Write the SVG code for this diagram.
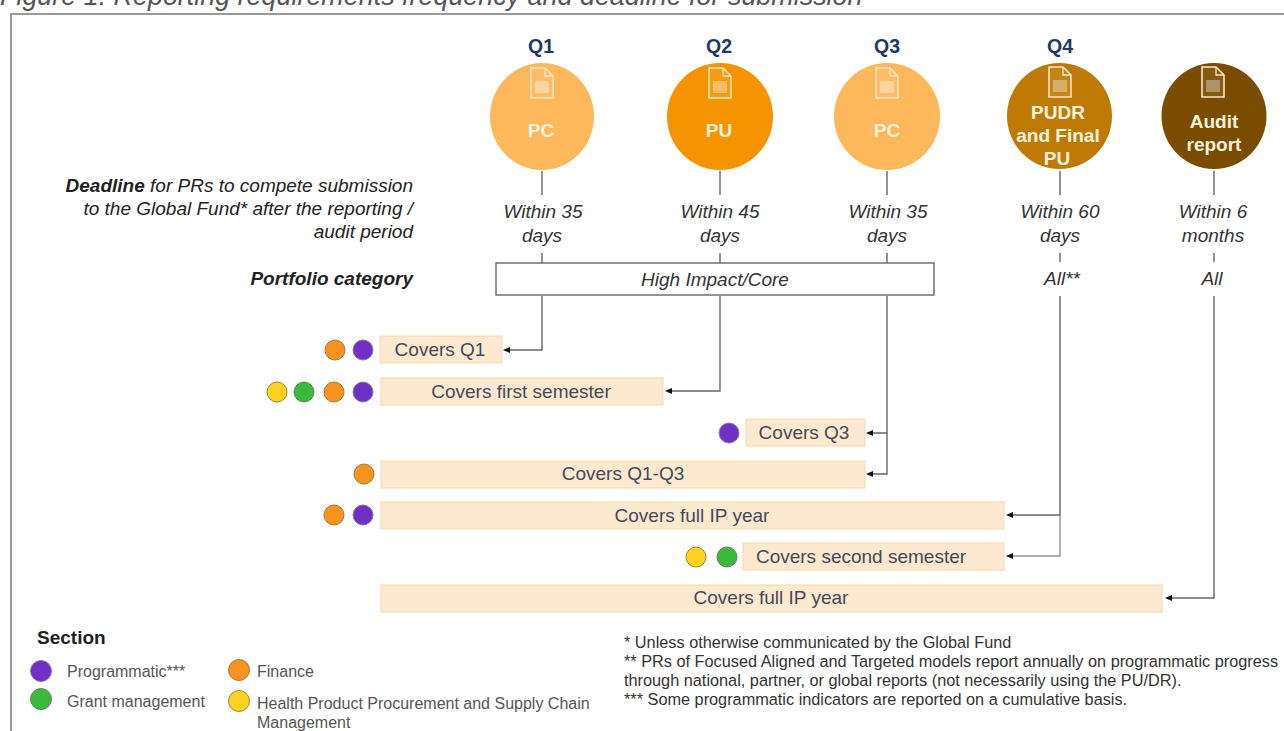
<svg xmlns="http://www.w3.org/2000/svg" width="1284" height="731" viewBox="0 0 1284 731">
<defs>
<marker id="ah" viewBox="0 0 8 8" refX="1" refY="4" markerWidth="8" markerHeight="8" markerUnits="userSpaceOnUse" orient="auto"><path d="M8 4L1 1V7Z" fill="#111"/></marker>
<g id="doc"><path d="M-11-15H3L11-7V15H-11Z" fill="#fff" fill-opacity=".08" stroke="#fde6c0" stroke-width="1.6"/><path d="M3-15V-7H11" fill="none" stroke="#fde6c0" stroke-width="1.3"/><rect x="-7" y="-2" width="14" height="12" fill="#fff" fill-opacity=".35"/></g>
</defs>
<style>
text{font-family:"Liberation Sans",Arial,sans-serif}
.q{font-size:19.5px;font-weight:700;fill:#1f3864;text-anchor:middle}
.w{font-size:19px;font-weight:700;fill:#fff3df;text-anchor:middle}
.d{font-size:19px;font-style:italic;fill:#333;text-anchor:middle}
.r{font-size:19px;font-style:italic;fill:#222;text-anchor:end}
.b{fill:#fde9d0;stroke:#fad7a8;stroke-width:1}
.c{font-size:19px;fill:#44495a;text-anchor:middle}
.l{fill:none;stroke:#666;stroke-width:1.4}
.p{fill:#7030c8;stroke:#8a7aa0}.o{fill:#f7931e;stroke:#a37b3a}.g{fill:#3cb83c;stroke:#5a8a5a}.y{fill:#ffd21f;stroke:#a08a2a}
.s{font-size:16px;fill:#555}
.n{font-size:16.3px;fill:#333}
</style>
<text x="0" y="5" font-size="26.9" font-style="italic" fill="#555">Figure 1: Reporting requirements frequency and deadline for submission</text>
<path d="M1284 14H11V731" fill="none" stroke="#999" stroke-width="2"/>
<g id="connectors">
<path class="l" d="M542 171V195M542 253V263M542 296V350H510" marker-end="url(#ah)"/>
<path class="l" d="M720 171V195M720 253V263M720 296V391H672" marker-end="url(#ah)"/>
<path class="l" d="M887 171V195M887 253V263M887 296V433H873" marker-end="url(#ah)"/>
<path class="l" d="M887 433V474H873" marker-end="url(#ah)"/>
<path class="l" d="M1060 171V195M1060 253V262M1060 296V515H1013" marker-end="url(#ah)"/>
<path class="l" stroke-opacity=".7" d="M1060 515V556H1013" marker-end="url(#ah)"/>
<path class="l" d="M1214 171V195M1214 253V262M1214 296V598H1172" marker-end="url(#ah)"/>
</g>
<g id="q1"><text class="q" x="541" y="53">Q1</text><ellipse cx="542" cy="116.500" rx="52" ry="53.500" fill="#fdb85c"/><use href="#doc" x="542" y="83"/><text class="w" x="541" y="137">PC</text><text class="d" x="543" y="218">Within 35</text><text class="d" x="542" y="242">days</text></g>
<g id="q2"><text class="q" x="719" y="53">Q2</text><ellipse cx="720" cy="116.500" rx="53" ry="53.500" fill="#f59300"/><use href="#doc" x="720" y="83"/><text class="w" x="719" y="137">PU</text><text class="d" x="720" y="218">Within 45</text><text class="d" x="720" y="242">days</text></g>
<g id="q3"><text class="q" x="887" y="53">Q3</text><ellipse cx="887" cy="116.500" rx="53" ry="53.500" fill="#fdb85c"/><use href="#doc" x="887" y="83"/><text class="w" x="887" y="137">PC</text><text class="d" x="888" y="218">Within 35</text><text class="d" x="887" y="242">days</text></g>
<g id="q4"><text class="q" x="1060" y="53">Q4</text><ellipse cx="1059.500" cy="116" rx="52.500" ry="53" fill="#bf7a06"/><use href="#doc" x="1060" y="82"/><text class="w" x="1058" y="119">PUDR</text><text class="w" x="1058" y="142">and Final</text><text class="w" x="1057" y="165">PU</text><text class="d" x="1060" y="218">Within 60</text><text class="d" x="1060" y="242">days</text><text class="d" x="1062" y="285">All**</text></g>
<g id="audit"><ellipse cx="1214" cy="116" rx="52.500" ry="53" fill="#7a4c00"/><use href="#doc" x="1213" y="82"/><text class="w" x="1214" y="128">Audit</text><text class="w" x="1214" y="151">report</text><text class="d" x="1213" y="218">Within 6</text><text class="d" x="1213" y="242">months</text><text class="d" x="1212" y="285">All</text></g>
<g id="deadline"><text class="r" x="413" y="192"><tspan font-weight="700">Deadline</tspan> for PRs to compete submission</text><text class="r" x="413" y="215">to the Global Fund* after the reporting /</text><text class="r" x="413" y="238">audit period</text></g>
<g id="category"><text class="r" x="413" y="285" font-weight="700">Portfolio category</text></g>
<g id="core"><rect x="496" y="263" width="438" height="32" fill="#fff" stroke="#666" stroke-width="1.4"/><text class="d" x="715" y="286">High Impact/Core</text></g>
<g id="r1"><rect class="b" x="380" y="336" width="122" height="27"/><text class="c" x="440" y="356">Covers Q1</text><circle class="o" cx="335" cy="350" r="10"/><circle class="p" cx="363" cy="350" r="10"/></g>
<g id="r2"><rect class="b" x="381" y="378" width="282" height="27"/><text class="c" x="521" y="398">Covers first semester</text><circle class="y" cx="277" cy="392" r="10"/><circle class="g" cx="304" cy="392" r="10"/><circle class="o" cx="334" cy="392" r="10"/><circle class="p" cx="363" cy="392" r="10"/></g>
<g id="r3"><rect class="b" x="746" y="419" width="119" height="27"/><text class="c" x="804" y="439">Covers Q3</text><circle class="p" cx="729" cy="433" r="10"/></g>
<g id="r4"><rect class="b" x="381" y="461" width="484" height="27"/><text class="c" x="623" y="480">Covers Q1-Q3</text><circle class="o" cx="364" cy="474" r="10"/></g>
<g id="r5"><rect class="b" x="381" y="502" width="623" height="27"/><text class="c" x="692" y="522">Covers full IP year</text><circle class="o" cx="334" cy="515" r="10"/><circle class="p" cx="363" cy="515" r="10"/></g>
<g id="r6"><rect class="b" x="743" y="543" width="261" height="27"/><text class="c" x="861" y="563">Covers second semester</text><circle class="y" cx="696" cy="557" r="10"/><circle class="g" cx="727" cy="557" r="10"/></g>
<g id="r7"><rect class="b" x="381" y="585" width="781" height="27"/><text class="c" x="771" y="604">Covers full IP year</text></g>
<g id="legend">
<text x="37" y="644" font-size="19" font-weight="700" fill="#222">Section</text>
<circle class="p" cx="41" cy="671" r="10.500"/><text class="s" x="67" y="677">Programmatic***</text>
<circle class="g" cx="41" cy="699" r="10.500"/><text class="s" x="67" y="707">Grant management</text>
<circle class="o" cx="239" cy="670" r="10.500"/><text class="s" x="257" y="677">Finance</text>
<circle class="y" cx="239" cy="701" r="10.500"/><text class="s" x="257" y="709">Health Product Procurement and Supply Chain</text><text class="s" x="257" y="728">Management</text>
</g>
<g id="notes">
<text class="n" x="624" y="648">* Unless otherwise communicated by the Global Fund</text>
<text class="n" x="624" y="667">** PRs of Focused Aligned and Targeted models report annually on programmatic progress</text>
<text class="n" x="624" y="686">through national, partner, or global reports (not necessarily using the PU/DR).</text>
<text class="n" x="624" y="705">*** Some programmatic indicators are reported on a cumulative basis.</text>
</g>
</svg>
